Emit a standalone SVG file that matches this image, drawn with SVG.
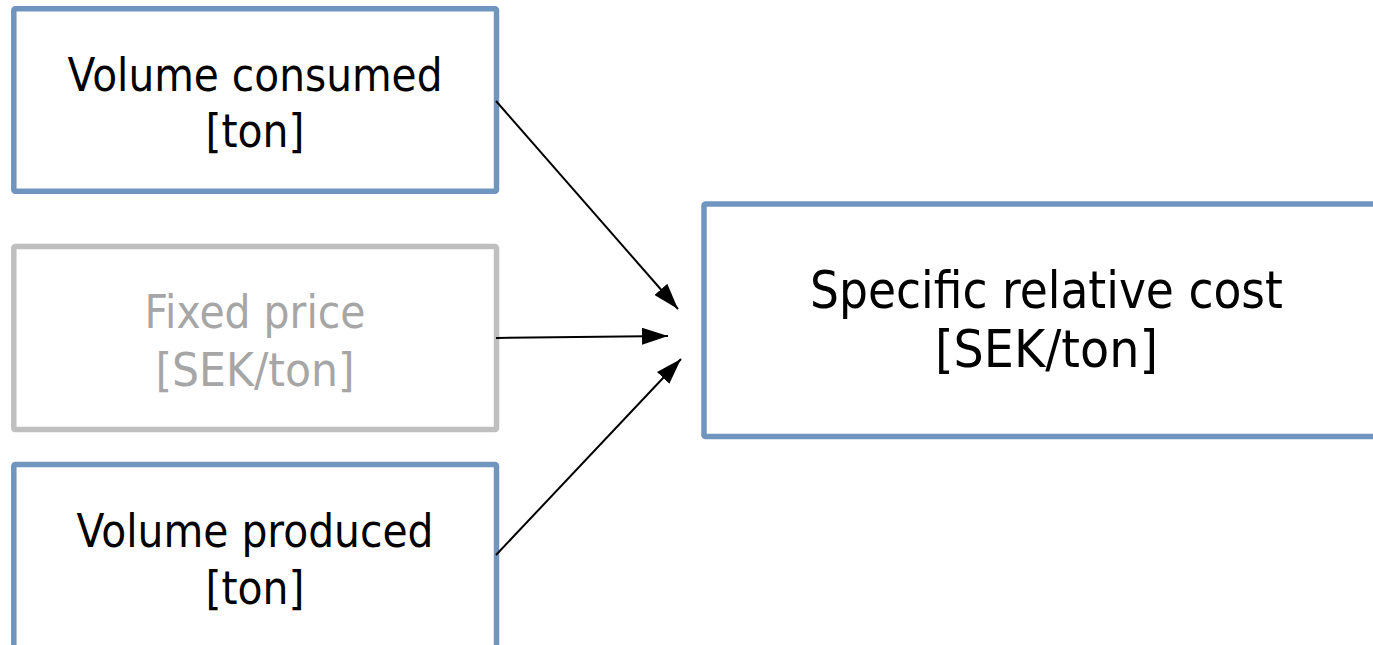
<svg xmlns="http://www.w3.org/2000/svg" width="1373" height="645" viewBox="0 0 1373 645">
  <style>
    .box { fill: #ffffff; stroke: #7096c0; stroke-width: 5.5; }
    .box-muted { fill: #ffffff; stroke: #bfbfbf; stroke-width: 5.5; }
    .label { font-family: "DejaVu Sans", "Liberation Sans", sans-serif; font-size: 47px; fill: #000000; text-anchor: middle; }
    .label-big { font-family: "DejaVu Sans", "Liberation Sans", sans-serif; font-size: 52px; fill: #000000; text-anchor: middle; }
    .muted { fill: #a6a6a6; }
    .edge { stroke: #000000; stroke-width: 2; fill: none; }
  </style>
  <defs>
    <marker id="arrow" markerUnits="userSpaceOnUse" markerWidth="27" markerHeight="18" refX="26" refY="8.5" orient="auto">
      <path d="M0,0 L26,8.5 L0,17 z" fill="#000000"/>
    </marker>
  </defs>

  <rect x="0" y="0" width="1373" height="645" fill="#ffffff"/>

  <!-- inputs -->
  <g id="volume-consumed">
    <rect class="box" x="13.8" y="8.8" width="482.7" height="182.5" rx="1.5"/>
    <text class="label" x="255" y="91" textLength="375" lengthAdjust="spacingAndGlyphs">Volume consumed</text>
    <text class="label" x="255" y="147" textLength="99" lengthAdjust="spacingAndGlyphs">[ton]</text>
  </g>

  <g id="fixed-price">
    <rect class="box-muted" x="13.8" y="246.5" width="482.7" height="183" rx="1.5"/>
    <text class="label muted" x="255" y="328" textLength="221" lengthAdjust="spacingAndGlyphs">Fixed price</text>
    <text class="label muted" x="255" y="386" textLength="199" lengthAdjust="spacingAndGlyphs">[SEK/ton]</text>
  </g>

  <g id="volume-produced">
    <rect class="box" x="13.8" y="464.5" width="482.7" height="220" rx="1.5"/>
    <text class="label" x="255" y="547" textLength="357" lengthAdjust="spacingAndGlyphs">Volume produced</text>
    <text class="label" x="255" y="604" textLength="99" lengthAdjust="spacingAndGlyphs">[ton]</text>
  </g>

  <!-- result -->
  <g id="specific-relative-cost">
    <rect class="box" x="704" y="204" width="684" height="232.5" rx="1.5"/>
    <text class="label-big" x="1046.5" y="308" textLength="473" lengthAdjust="spacingAndGlyphs">Specific relative cost</text>
    <text class="label-big" x="1046.5" y="367" textLength="223" lengthAdjust="spacingAndGlyphs">[SEK/ton]</text>
  </g>

  <!-- connectors -->
  <g id="connectors">
    <line class="edge" x1="496" y1="101" x2="678" y2="309" marker-end="url(#arrow)"/>
    <line class="edge" x1="496" y1="338" x2="668" y2="336" marker-end="url(#arrow)"/>
    <line class="edge" x1="496" y1="555" x2="681" y2="359" marker-end="url(#arrow)"/>
  </g>
</svg>
